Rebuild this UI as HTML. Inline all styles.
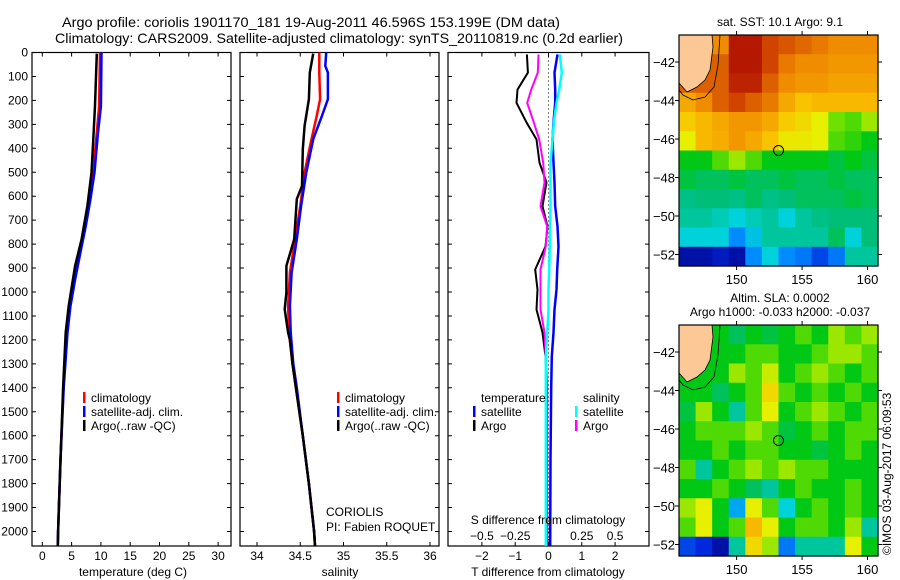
<!DOCTYPE html>
<html><head><meta charset="utf-8"><style>
body{margin:0;background:#fff;}
svg{display:block;font-family:"Liberation Sans",sans-serif;}
</style></head><body>
<svg id="fig" width="900" height="580" viewBox="0 0 900 580">
<text x="62" y="27" font-size="14" textLength="498" lengthAdjust="spacingAndGlyphs">Argo profile: coriolis 1901170_181 19-Aug-2011 46.596S 153.199E (DM data)</text>
<text x="55" y="43" font-size="14" textLength="568" lengthAdjust="spacingAndGlyphs">Climatology: CARS2009. Satellite-adjusted climatology: synTS_20110819.nc (0.2d earlier)</text>
<g id="g1"></g>
<g id="g2"></g>
<g id="g3"></g>
<g id="m1"></g>
<g id="m2"></g>
<text x="780" y="26" font-size="12" text-anchor="middle">sat. SST: 10.1 Argo: 9.1</text>
<text x="780" y="302" font-size="12" text-anchor="middle">Altim. SLA: 0.0002</text>
<text x="780" y="316" font-size="12" text-anchor="middle">Argo h1000: -0.033 h2000: -0.037</text>
<text transform="translate(891,555) rotate(-90)" font-size="12">©IMOS 03-Aug-2017 06:09:53</text>
</svg>
<script>
// ---------- data ----------
const depthTicks=[0,100,200,300,400,500,600,700,800,900,1000,1100,1200,1300,1400,1500,1600,1700,1800,1900,2000];
const tTicks=[0,5,10,15,20,25,30];
const sTicks=[34,34.5,35,35.5,36];
const dTTicks=[-2,-1,0,1,2];
const dSTicks=[-0.5,-0.25,0,0.25,0.5];
const dSTickLabels=["-0.5","-0.25","0","0.25","0.5"];
const depthsClimT=[0,225,334,500,614,726,835,948,1060,1169,1400,1700,2000,2060];
const tClim=[9.85,9.7,9.3,8.7,8.0,7.3,6.4,5.5,4.7,4.2,3.6,3.1,2.7,2.65];
const tSat=[10.1,10.0,9.5,8.9,8.2,7.4,6.5,5.6,4.8,4.3,3.65,3.1,2.7,2.65];
const depthsArgoT=[5,223,362,501,640,780,891,1058,1169,1400,1700,2000,2060];
const tArgo=[9.3,9.0,8.7,8.4,7.7,6.7,5.6,4.5,4.0,3.55,3.1,2.7,2.65];
const depthsS=[0,56,84,195,265,362,501,640,780,919,1058,1169,1300,1400,1600,1800,2000,2060];
const sClim=[34.72,34.72,34.72,34.73,34.69,34.63,34.55,34.5,34.44,34.38,34.36,34.37,34.41,34.45,34.53,34.6,34.66,34.67];
const sSat=[34.8,34.79,34.82,34.82,34.75,34.65,34.57,34.51,34.46,34.4,34.38,34.39,34.42,34.46,34.53,34.6,34.66,34.67];
const depthsSArgo=[5,84,195,306,404,557,612,780,891,1002,1072,1169,1200,1300,1400,1600,1800,2000,2060];
const sArgo=[34.65,34.61,34.6,34.55,34.53,34.52,34.46,34.43,34.34,34.34,34.32,34.36,34.38,34.41,34.45,34.53,34.6,34.66,34.67];
const depthsDiff=[8,84,155,210,292,363,460,543,642,726,810,906,990,1073,1169,1269,1400,1700,2060];
const dTArgo=[-0.65,-0.62,-0.93,-0.96,-0.66,-0.36,-0.27,-0.06,-0.18,-0.03,-0.09,-0.4,-0.33,-0.36,-0.18,-0.09,-0.05,-0.05,-0.04];
const dTSat=[0.27,0.18,0.2,0.2,0.15,0.12,0.15,0.18,0.2,0.27,0.3,0.26,0.24,0.18,0.15,0.1,0.08,0.06,0.05];
const dSArgo=[-0.075,-0.08,-0.13,-0.16,-0.11,-0.07,-0.04,-0.03,-0.06,-0.01,-0.02,-0.06,-0.06,-0.06,-0.03,-0.02,-0.01,-0.01,-0.01];
const dSSat=[0.085,0.1,0.08,0.06,0.04,0.03,0.015,0.015,0.015,0.012,0.01,0.005,0,0,-0.01,-0.02,-0.02,-0.02,-0.02];
const lonTicks=[150,155,160];
const latTicks=[-42,-44,-46,-48,-50,-52];
const sstGrid=[
[-1,-1,.8,.95,.95,.88,.86,.84,.82,.8,.8,.8],
[-1,-1,.85,.95,.95,.88,.82,.8,.8,.78,.78,.78],
[-1,-1,.85,.93,.93,.85,.8,.78,.78,.76,.76,.76],
[.75,.8,.85,.88,.85,.82,.75,.7,.72,.72,.72,.72],
[.68,.72,.75,.78,.78,.75,.68,.65,.6,.52,.5,.55],
[.6,.72,.74,.78,.75,.7,.62,.62,.6,.5,.48,.45],
[.45,.45,.5,.55,.5,.45,.45,.45,.45,.42,.45,.42],
[.42,.4,.4,.42,.4,.4,.42,.4,.4,.42,.4,.4],
[.37,.38,.38,.37,.4,.37,.38,.4,.4,.4,.42,.4],
[.35,.35,.33,.3,.33,.35,.3,.35,.37,.38,.38,.38],
[.3,.3,.3,.22,.28,.35,.35,.35,.35,.4,.3,.38],
[.05,.05,.08,.05,.22,.3,.22,.2,.15,.2,.35,.35]];
const slaGrid=[
[-1,-1,.45,.4,.45,.42,.45,.5,.45,.55,.5,.55],
[-1,-1,.45,.45,.5,.5,.45,.45,.5,.55,.55,.5],
[-1,-1,.45,.55,.5,.58,.45,.5,.55,.5,.45,.5],
[.45,.45,.4,.45,.5,.65,.5,.45,.5,.45,.5,.45],
[.42,.55,.45,.35,.5,.6,.45,.5,.55,.5,.45,.5],
[.45,.5,.5,.5,.55,.5,.42,.45,.5,.45,.5,.5],
[.45,.45,.5,.45,.5,.5,.45,.45,.42,.45,.5,.45],
[.5,.35,.45,.5,.55,.5,.55,.5,.5,.45,.45,.45],
[.45,.45,.5,.45,.4,.35,.45,.5,.45,.45,.5,.45],
[.55,.6,.45,.25,.6,.5,.3,.45,.5,.45,.5,.45],
[.5,.6,.45,.5,.72,.6,.45,.5,.5,.45,.55,.35],
[.15,.12,.05,.35,.65,.55,.2,.35,.35,.35,.6,.45]];
const argoLon=153.2, argoLat=-46.6;

// ---------- helpers ----------
const NS="http://www.w3.org/2000/svg";
function mk(p,t,a){const e=document.createElementNS(NS,t);for(const k in a)e.setAttribute(k,a[k]);p.appendChild(e);return e;}
const TOP=52.5, BOT=546;
const yD=d=>TOP+d*0.2395;

function panel(g,x0,x1,name){
  const r=mk(g,'rect',{x:x0,y:TOP,width:x1-x0,height:BOT-TOP,fill:'#fff',stroke:'#000','stroke-width':1.2});
  
  
  depthTicks.forEach(d=>{
    const y=yD(d);
    const t=mk(g,'path',{d:`M${x0},${y}h4M${x1},${y}h-4`,stroke:'#000','stroke-width':1});
    
    
  });
}
function line(g,xs,ds,xf,color,name,w){
  const pts=xs.map((v,i)=>xf(v).toFixed(1)+','+yD(ds[i]).toFixed(1)).join(' ');
  const p=mk(g,'polyline',{points:pts,fill:'none',stroke:color,'stroke-width':w||2.5});
  
  
}
function xtick(g,x,label,y,name){
  const t=mk(g,'path',{d:`M${x},${TOP}v4M${x},${BOT}v-4`,stroke:'#000','stroke-width':1});
  
  
  const tx=mk(g,'text',{x:x,y:y,'font-size':12,'text-anchor':'middle'});tx.textContent=label;
  
  
}
function txt(g,x,y,s,name,anchor,size){
  const t=mk(g,'text',{x:x,y:y,'font-size':size||12,'text-anchor':anchor||'start'});t.textContent=s;
  
  
  return t;
}
function legBar(g,x,y,color,name){
  const r=mk(g,'rect',{x:x,y:y-10,width:2.5,height:11,fill:color});
  
  
}

// ---------- panel 1 ----------
const g1=document.getElementById('g1');
const xT=t=>42.3+5.86*t;
panel(g1,32,231,'temperature-panel');
depthTicks.forEach(d=>{const t=txt(g1,28,yD(d)+4,String(d),'depth-tick-label','end');});
tTicks.forEach(t=>xtick(g1,xT(t),String(t),560,'temperature-axis'));
line(g1,tClim,depthsClimT,xT,'#ff0000','temperature-climatology-line');
line(g1,tSat,depthsClimT,xT,'#0000ff','temperature-satellite-line');
line(g1,tArgo,depthsArgoT,xT,'#000000','temperature-argo-line');
txt(g1,133,576,'temperature (deg C)','temperature-axis-title','middle');
legBar(g1,83,402,'#ff0000','legend-climatology-swatch');txt(g1,91,402,'climatology','legend-climatology-label');
legBar(g1,83,416,'#0000ff','legend-satellite-swatch');txt(g1,91,416,'satellite-adj. clim.','legend-satellite-label');
legBar(g1,83,430,'#000000','legend-argo-swatch');txt(g1,91,430,'Argo(..raw -QC)','legend-argo-label');

// ---------- panel 2 ----------
const g2=document.getElementById('g2');
const xS=s=>257+86.5*(s-34);
panel(g2,240,439,'salinity-panel');
sTicks.forEach(s=>xtick(g2,xS(s),String(s),560,'salinity-axis'));
line(g2,sClim,depthsS,xS,'#ff0000','salinity-climatology-line');
line(g2,sSat,depthsS,xS,'#0000ff','salinity-satellite-line');
line(g2,sArgo,depthsSArgo,xS,'#000000','salinity-argo-line');
txt(g2,340,576,'salinity','salinity-axis-title','middle');
legBar(g2,337,402,'#ff0000','legend-climatology-swatch');txt(g2,345,402,'climatology','legend-climatology-label');
legBar(g2,337,416,'#0000ff','legend-satellite-swatch');txt(g2,345,416,'satellite-adj. clim.','legend-satellite-label');
legBar(g2,337,430,'#000000','legend-argo-swatch');txt(g2,345,430,'Argo(..raw -QC)','legend-argo-label');
txt(g2,326,516,'CORIOLIS','institution-label');
txt(g2,326,531,'PI: Fabien ROQUET','pi-label');

// ---------- panel 3 ----------
const g3=document.getElementById('g3');
const xdT=v=>548.5+33.3*v;
const xdS=v=>548.5+133.2*v;
panel(g3,448,649,'difference-panel');
const zl=mk(g3,'line',{x1:xdT(0),y1:TOP,x2:xdT(0),y2:BOT,stroke:'#000','stroke-width':1,'stroke-dasharray':'1,3'});


dTTicks.forEach(v=>xtick(g3,xdT(v),v<0?'\u2212'+(-v):String(v),560,'t-difference-axis'));
dSTicks.forEach((v,i)=>txt(g3,xdS(v),540,dSTickLabels[i].replace('-','\u2212'),'s-difference-tick-label','middle'));
line(g3,dTArgo,depthsDiff,xdT,'#000000','t-difference-argo-line',2);
line(g3,dTSat,depthsDiff,xdT,'#0000ff','t-difference-satellite-line',2.5);
line(g3,dSArgo,depthsDiff,xdS,'#ff00ff','s-difference-argo-line',2);
line(g3,dSSat,depthsDiff,xdS,'#00ffff','s-difference-satellite-line',2.5);
txt(g3,548,524,'S difference from climatology','s-difference-axis-title','middle');
txt(g3,548,576,'T difference from climatology','t-difference-axis-title','middle');
txt(g3,481,402,'temperature','legend-temperature-heading');
legBar(g3,473,416,'#0000ff','legend-t-satellite-swatch');txt(g3,481,416,'satellite','legend-t-satellite-label');
legBar(g3,473,430,'#000000','legend-t-argo-swatch');txt(g3,481,430,'Argo','legend-t-argo-label');
txt(g3,583,402,'salinity','legend-salinity-heading');
legBar(g3,575,416,'#00ffff','legend-s-satellite-swatch');txt(g3,583,416,'satellite','legend-s-satellite-label');
legBar(g3,575,430,'#ff00ff','legend-s-argo-swatch');txt(g3,583,430,'Argo','legend-s-argo-label');

// ---------- maps ----------
const stops=[[0,[0,0,130]],[.12,[0,40,220]],[.22,[0,140,255]],[.3,[0,210,220]],[.38,[0,190,120]],[.45,[0,200,20]],[.52,[110,225,0]],[.6,[230,240,0]],[.7,[250,195,0]],[.8,[240,140,0]],[.9,[200,50,0]],[1,[160,0,0]]];
function cmap(v){
  for(let i=1;i<stops.length;i++){if(v<=stops[i][0]){const a=stops[i-1],b=stops[i],f=(v-a[0])/(b[0]-a[0]);
    return 'rgb('+a[1].map((c,k)=>Math.round(c+(b[1][k]-c)*f)).join(',')+')';}}
  return 'rgb(160,0,0)';
}
function map(id,top,grid,name){
  const g=document.getElementById(id);
  const L=679,R=878,T=top,B=top+231;
  const lon0=145.6,lon1=160.8,lat0=-40.6,lat1=-52.6;
  const X=lo=>L+(lo-lon0)/(lon1-lon0)*(R-L);
  const Y=la=>T+(la-lat0)/(lat1-lat0)*(B-T);
  const nr=grid.length,nc=grid[0].length,cw=(R-L)/nc,ch=(B-T)/nr;
  grid.forEach((row,i)=>row.forEach((v,j)=>{
    const r=mk(g,'rect',{x:L+j*cw,y:T+i*ch,width:cw+0.6,height:ch+0.6,fill:v<0?cmap(row[2]):cmap(v)});
    
    
  }));
  const land=mk(g,'path',{d:`M${L},${T}H${L+33}L${L+34},${T+12}L${L+31},${T+35}L${L+26},${T+45}L${L+18},${T+52}L${L+8},${T+57}L${L},${T+48}Z`,fill:'#fcc896',stroke:'#000','stroke-width':0.8});
  
  
  const c=mk(g,'path',{d:`M${L+41},${T}L${L+39},${T+30}L${L+35},${T+52}L${L+26},${T+62}L${L+14},${T+65}L${L+4},${T+60}L${L},${T+55}`,fill:'none',stroke:'#000','stroke-width':0.8});
  
  
  const fr=mk(g,'rect',{x:L,y:T,width:R-L,height:B-T,fill:'none',stroke:'#000','stroke-width':1.2});
  
  
  lonTicks.forEach(lo=>{
    const t=mk(g,'path',{d:`M${X(lo)},${T}v-4M${X(lo)},${B}v4`,stroke:'#000'});
    
    
    txt(g,X(lo),B+18,String(lo),'lon-tick-label','middle',13);
  });
  latTicks.forEach(la=>{
    const t=mk(g,'path',{d:`M${L},${Y(la)}h-4M${R},${Y(la)}h4`,stroke:'#000'});
    
    
    txt(g,L-4,Y(la)+5,'\u2212'+(-la),'lat-tick-label','end',13);
  });
  const m=mk(g,'circle',{cx:X(argoLon),cy:Y(argoLat),r:5,fill:'none',stroke:'#000','stroke-width':1});
  
  
}
map('m1',35,sstGrid,'sst-map');
map('m2',325,slaGrid,'sla-map');
</script>
</body></html>
